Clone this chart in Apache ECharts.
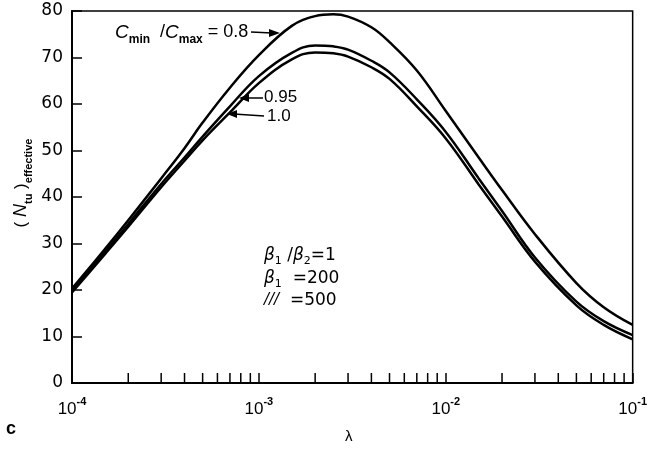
<!DOCTYPE html>
<html>
<head>
<meta charset="utf-8">
<script src="https://cdn.jsdelivr.net/npm/echarts@6/dist/echarts.min.js"></script>
<style>
  html, body { margin: 0; padding: 0; background: #fff; }
  #main { width: 650px; height: 449px; }
</style>
</head>
<body>
<div id="main"></div>
<script>
// lambda 取值（对数坐标）
var lambda = [1e-4, 1.5e-4, 2e-4, 3e-4, 4e-4, 5e-4, 7e-4, 1e-3, 1.5e-3, 2e-3, 2.5e-3, 3e-3,
              4e-3, 5e-3, 7e-3, 1e-2, 1.5e-2, 2e-2, 3e-2, 5e-2, 7e-2, 1e-1];
// 三条曲线，Cmin/Cmax = 0.8, 0.95, 1.0
var ratio08  = [20.3, 28.8, 35, 44, 50.5, 56, 63.5, 70.5, 76.8, 78.9, 79.3, 78.8,
                76.5, 73.3, 67.2, 58.5, 48.5, 41.5, 32, 21.5, 16.3, 12.5];
var ratio095 = [19.8, 28.2, 34.2, 42.8, 48.5, 53, 59.5, 66, 71, 72.6, 72.4, 71.7,
                69.3, 66.8, 61, 54, 44, 37, 27, 17.5, 13.3, 10.3];
var ratio10  = [19.5, 27.7, 33.6, 42.1, 47.8, 52.2, 58.2, 64.5, 69.6, 71.1, 70.9, 70.2,
                67.9, 65.4, 59.5, 52.6, 42.7, 35.8, 26.1, 16.7, 12.5, 9.4];
// 坐标轴刻度
var decades = [1e-4, 1e-3, 1e-2];
var minorSteps = [2, 3, 4, 5, 6, 7, 8, 9];

var font = 'Liberation Sans';

function pairs(ys) {
    return lambda.map(function (x, i) { return [x, ys[i]]; });
}

// 次刻度的位置
var minorTicks = [];
decades.forEach(function (d) {
    minorSteps.forEach(function (k) { minorTicks.push([d * k, 0]); });
});

var lineStyle = { color: '#000', width: 2.5 };

var option = {
    animation: false,
    backgroundColor: '#fff',
    grid: { left: 72, right: 15, top: 11, bottom: 66, show: true, borderColor: '#000', borderWidth: 1.5 },
    xAxis: {
        type: 'log', logBase: 10, min: 1e-4, max: 1e-1,
        axisLine: { lineStyle: { color: '#000', width: 2 } },
        axisTick: { inside: true, length: 10, lineStyle: { color: '#000', width: 1.5 } },
        splitLine: { show: false },
        axisLabel: {
            margin: 13,
            formatter: function (v) {
                return '{a|10}{b|' + Math.round(Math.log10(v)) + '}';
            },
            rich: {
                a: { fontFamily: font, fontSize: 17, color: '#000', lineHeight: 22, verticalAlign: 'bottom' },
                b: { fontFamily: font, fontSize: 11, color: '#000', fontWeight: 'bold', lineHeight: 22, verticalAlign: 'top' }
            }
        }
    },
    yAxis: {
        type: 'value', min: 0, max: 80, interval: 10,
        axisLine: { show: true, lineStyle: { color: '#000', width: 2 } },
        axisTick: { inside: true, length: 10, lineStyle: { color: '#000', width: 1.5 } },
        splitLine: { show: false },
        axisLabel: { margin: 9, fontFamily: 'DejaVu Sans', fontSize: 17, color: '#000' }
    },
    series: [
        { name: '0.8', type: 'line', data: pairs(ratio08), smooth: 0.4, symbol: 'none', lineStyle: lineStyle },
        { name: '0.95', type: 'line', data: pairs(ratio095), smooth: 0.4, symbol: 'none', lineStyle: lineStyle },
        { name: '1.0', type: 'line', data: pairs(ratio10), smooth: 0.4, symbol: 'none', lineStyle: lineStyle },
        {
            // 对数轴上的次刻度线
            type: 'custom',
            data: minorTicks,
            silent: true,
            renderItem: function (params, api) {
                var p = api.coord([api.value(0), api.value(1)]);
                return {
                    type: 'line',
                    shape: { x1: p[0], y1: p[1], x2: p[0], y2: p[1] - 10 },
                    style: { stroke: '#000', lineWidth: 1.5 }
                };
            }
        }
    ],
    graphic: [
        {
            // 纵轴标题
            type: 'text', x: 21, y: 183, rotation: Math.PI / 2,
            style: {
                text: '( {n|N}{s|tu} ){e|effective}',
                align: 'center', verticalAlign: 'middle',
                fontFamily: font, fontSize: 17, fill: '#000',
                rich: {
                    n: { fontFamily: font, fontSize: 18, fontStyle: 'italic', fill: '#000', lineHeight: 24, verticalAlign: 'middle' },
                    s: { fontFamily: font, fontSize: 11, fontWeight: 'bold', fill: '#000', lineHeight: 22, verticalAlign: 'bottom' },
                    e: { fontFamily: font, fontSize: 11, fontWeight: 'bold', fill: '#000', lineHeight: 26, verticalAlign: 'bottom' }
                }
            }
        },
        {
            type: 'text', left: 115, top: 23,
            style: {
                text: '{i|C}{s|min}  /{i|C}{s|max} = 0.8',
                fontFamily: font, fontSize: 18, fill: '#000',
                rich: {
                    i: { fontFamily: font, fontSize: 19, fontStyle: 'italic', fill: '#000', lineHeight: 24, verticalAlign: 'middle' },
                    s: { fontFamily: font, fontSize: 12, fontWeight: 'bold', fill: '#000', lineHeight: 26, verticalAlign: 'bottom' }
                }
            }
        },
        { type: 'line', shape: { x1: 251, y1: 32, x2: 272, y2: 33 }, style: { stroke: '#000', lineWidth: 1.5 } },
        { type: 'polygon', shape: { points: [[280, 33], [269, 29], [269, 37]] }, style: { fill: '#000' } },
        { type: 'text', left: 264, top: 89, style: { text: '0.95', fontFamily: font, fontSize: 17, fill: '#000' } },
        { type: 'line', shape: { x1: 263, y1: 98, x2: 246, y2: 98 }, style: { stroke: '#000', lineWidth: 1.5 } },
        { type: 'polygon', shape: { points: [[239, 98], [249, 94], [249, 102]] }, style: { fill: '#000' } },
        { type: 'text', left: 267, top: 108, style: { text: '1.0', fontFamily: font, fontSize: 17, fill: '#000' } },
        { type: 'line', shape: { x1: 264, y1: 116, x2: 234, y2: 114 }, style: { stroke: '#000', lineWidth: 1.5 } },
        { type: 'polygon', shape: { points: [[227, 114], [237, 110], [237, 118]] }, style: { fill: '#000' } },
        {
            type: 'text', left: 264, top: 244,
            style: {
                text: '{b|β}{s|1} /{b|β}{s|2}=1\n{b|β}{s|1}  =200\n{t|///}  =500',
                fontFamily: 'DejaVu Sans', fontSize: 17, fill: '#000', lineHeight: 21,
                rich: {
                    b: { fontFamily: 'DejaVu Sans', fontSize: 17, fontStyle: 'italic', fill: '#000', lineHeight: 21, verticalAlign: 'middle' },
                    s: { fontFamily: 'DejaVu Sans', fontSize: 11, fill: '#000', lineHeight: 23, verticalAlign: 'bottom' },
                    t: { fontFamily: 'DejaVu Sans', fontSize: 15, fontStyle: 'italic', fill: '#000', lineHeight: 21, verticalAlign: 'middle' }
                }
            }
        },
        { type: 'text', left: 345, top: 429, style: { text: 'λ', fontFamily: font, fontSize: 15, fill: '#000' } },
        { type: 'text', left: 6, top: 420, style: { text: 'c', fontFamily: font, fontSize: 18, fontWeight: 'bold', fill: '#000' } }
    ]
};

var myChart = echarts.init(document.getElementById('main'));
myChart.setOption(option);
</script>
</body>
</html>
